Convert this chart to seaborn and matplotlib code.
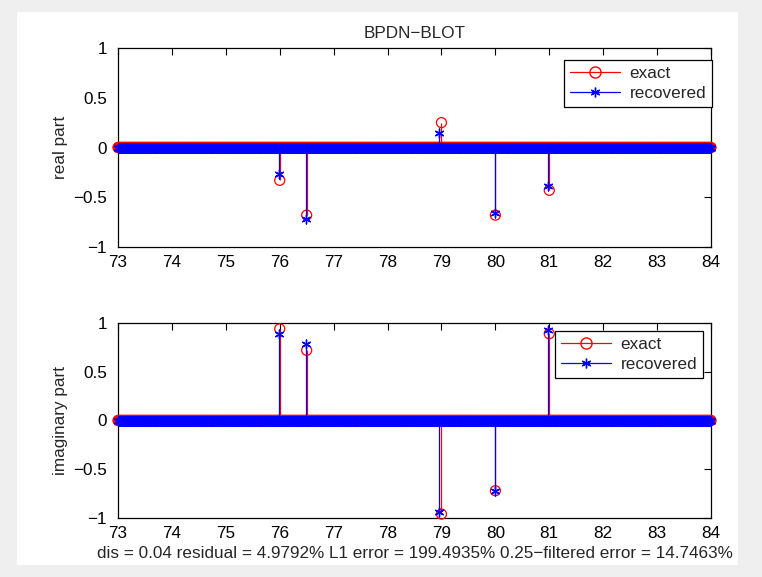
import numpy as np
import pandas as pd
import matplotlib
matplotlib.use("Agg")
import matplotlib.pyplot as plt
import seaborn as sns
from matplotlib.lines import Line2D
from matplotlib.legend_handler import HandlerLine2D
from matplotlib.patches import Rectangle
from matplotlib.ticker import FuncFormatter

# ---------------- data ----------------
grid_start, grid_stop, grid_step = 73.0, 84.0, 0.01
spike_x_exact = [76.0, 76.5, 79.0, 80.0, 81.0]
spike_x_rec = [75.985, 76.485, 78.96, 79.985, 80.985]
real_exact = [-0.33, -0.68, 0.25, -0.68, -0.43]
real_rec = [-0.27, -0.72, 0.15, -0.655, -0.39]
imag_exact = [0.94, 0.72, -0.96, -0.72, 0.89]
imag_rec = [0.89, 0.78, -0.94, -0.72, 0.93]
x_ticks = list(range(73, 85))
y_ticks = [-1, -0.5, 0, 0.5, 1]
title = "BPDN\u2212BLOT"
xlabel = "dis = 0.04 residual = 4.9792% L1 error = 199.4935% 0.25\u2212filtered error = 14.7463%"
ylabels = ["real part", "imaginary part"]
legend_labels = ["exact", "recovered"]

zero_grid = np.arange(grid_start, grid_stop + grid_step / 2, grid_step)


def build(xs, vals):
    df = pd.DataFrame({"x": np.concatenate([zero_grid, xs]),
                       "y": np.concatenate([np.zeros_like(zero_grid), vals])})
    return df.sort_values("x").reset_index(drop=True)


sns.set_style("white")
plt.rcParams["font.family"] = ["Liberation Sans", "DejaVu Sans"]
FS = 12.3
plt.rcParams["font.size"] = FS

W, H = 762, 577
fig = plt.figure(figsize=(W / 100, H / 100), dpi=100, facecolor="#efefef")
bg = Rectangle((17 / W, 1 - 565 / H), (738 - 17) / W, (565 - 12) / H,
               transform=fig.transFigure, facecolor="white",
               edgecolor="none", zorder=-10)
fig.add_artist(bg)

L, R = 118, 711
ax_top = fig.add_axes([L / W, 1 - 247 / H, (R - L) / W, (247 - 48) / H])
ax_bot = fig.add_axes([L / W, 1 - 518 / H, (R - L) / W, (518 - 323) / H])


class EndMarker(HandlerLine2D):
    def get_xdata(self, legend, xdescent, ydescent, width, height, fontsize):
        xd = np.array([-xdescent, -xdescent + width])
        return xd, np.array([-xdescent + width])


def panel(ax, ex_vals, rec_vals, ylabel, legend_anchor):
    dfe = build(spike_x_exact, ex_vals)
    dfr = build(spike_x_rec, rec_vals)
    ax.vlines(dfe["x"], 0, dfe["y"], color="red", lw=0.9, zorder=2)
    sns.scatterplot(data=dfe, x="x", y="y", ax=ax, marker="o", s=52,
                    facecolor="none", edgecolor="red", linewidth=0.9,
                    zorder=3, clip_on=False, legend=False)
    ax.vlines(dfr["x"], 0, dfr["y"], color="blue", lw=0.9, zorder=4)
    sns.scatterplot(data=dfr, x="x", y="y", ax=ax, marker=(6, 2, 0), s=40,
                    color="blue", edgecolor="blue", linewidth=1.0,
                    zorder=5, clip_on=False, legend=False)
    ax.set_xlim(73, 84)
    ax.set_ylim(-1, 1)
    ax.set_xticks(x_ticks)
    ax.set_yticks(y_ticks)
    ax.yaxis.set_major_formatter(FuncFormatter(lambda v, p: f"{v:g}".replace("-", "\u2212")))
    ax.tick_params(direction="in", length=5, width=0.8, top=True, right=True,
                   labelsize=FS, colors="black")
    ax.tick_params(axis="x", pad=6)
    ax.tick_params(axis="y", pad=8)
    for s in ax.spines.values():
        s.set_visible(True)
        s.set_color("black")
        s.set_linewidth(0.9)
    ax.set_xlabel("")
    ax.set_ylabel(ylabel, fontsize=FS, labelpad=4)
    handles = [Line2D([0, 1], [0, 0], color="red", lw=0.9, marker="o",
                      markerfacecolor="none", markeredgecolor="red", markersize=8),
               Line2D([0, 1], [0, 0], color="blue", lw=0.9, marker=(6, 2, 0),
                      markeredgecolor="blue", markersize=7)]
    leg = ax.legend(handles, legend_labels, loc="upper right",
                    bbox_to_anchor=legend_anchor, bbox_transform=ax.transAxes,
                    handler_map={h: EndMarker() for h in handles},
                    fancybox=False, framealpha=1, edgecolor="black",
                    fontsize=FS, handlelength=2.9, handletextpad=0.55,
                    borderpad=0.35, labelspacing=0.3, borderaxespad=0)
    leg.get_frame().set_linewidth(0.9)
    leg.set_zorder(10)


panel(ax_top, real_exact, real_rec, ylabels[0], ((712 - L) / (R - L), (247 - 60) / (247 - 48)))
panel(ax_bot, imag_exact, imag_rec, ylabels[1], ((703 - L) / (R - L), (518 - 331) / (518 - 323)))

ax_top.set_title(title, fontsize=FS, pad=7)
ax_bot.set_xlabel(xlabel, fontsize=FS, labelpad=3)

fig.savefig("out.png", dpi=100, facecolor=fig.get_facecolor())
